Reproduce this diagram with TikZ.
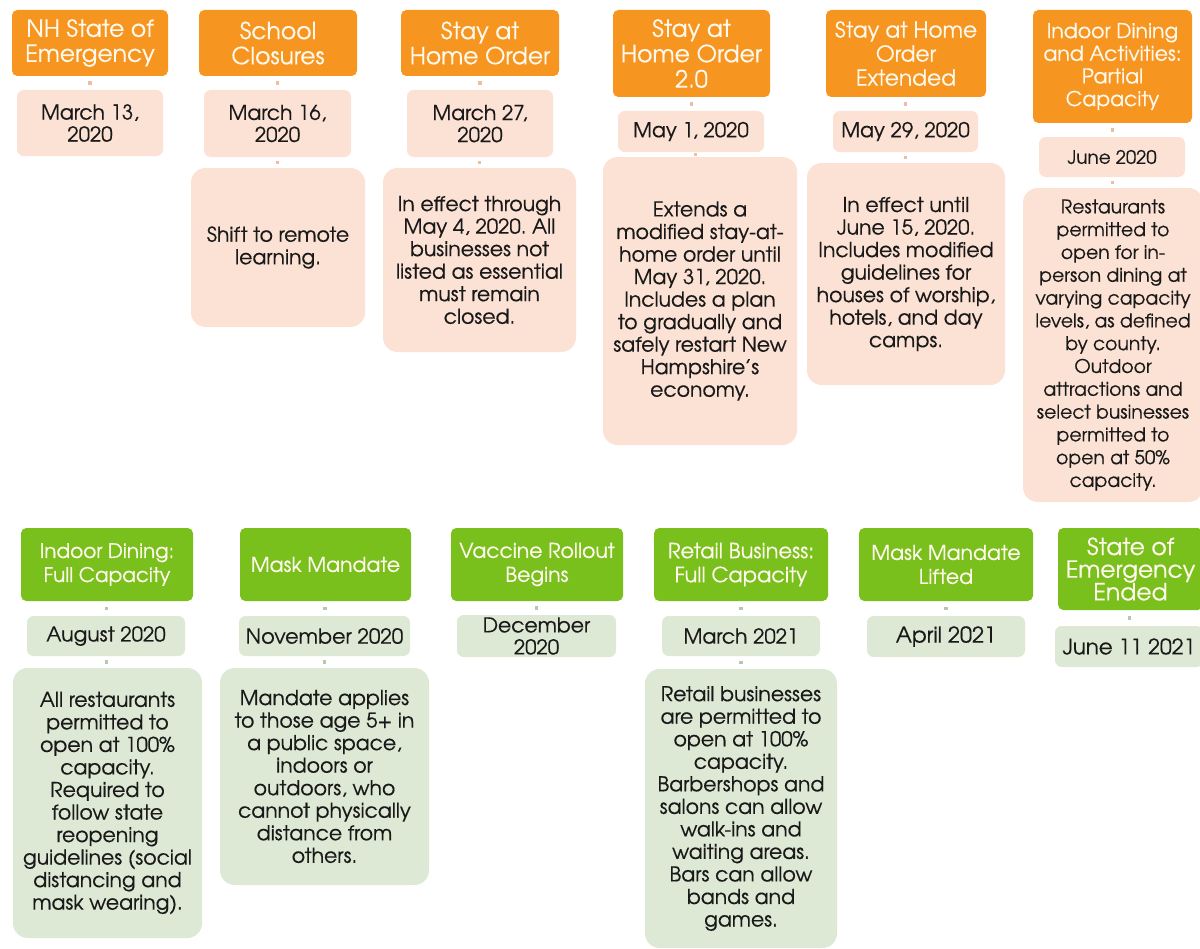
\documentclass[tikz,border=0pt]{standalone}
\usepackage{fontspec}
\setmainfont[FakeBold=0.4]{TeX Gyre Adventor}
\frenchspacing
\usetikzlibrary{calc}
\definecolor{orH}{RGB}{246,149,32}
\definecolor{orL}{RGB}{251,226,212}
\definecolor{orD}{RGB}{238,190,162}
\definecolor{grH}{RGB}{122,192,28}
\definecolor{grL}{RGB}{221,233,213}
\definecolor{grD}{RGB}{180,200,170}
\definecolor{hdT}{RGB}{255,248,236}
\definecolor{bdT}{RGB}{25,25,25}
\newcommand\tbox[7]{\node[#2, minimum width={(#5-#3)*0.75pt}, minimum height={(#6-#4)*0.75pt}] (#1) at ({(#3+#5)/2},{(#4+#6)/2}) {#7};}
\tikzset{
  fs/.style 2 args={font=\fontsize{#1}{#2}\selectfont},
  base/.style={align=center, inner sep=0pt, outer sep=0pt},
  hdrO/.style={base, fill=orH, text=hdT, rounded corners=4pt, fs={17.6}{18.8}},
  hdrG/.style={base, fill=grH, text=hdT, rounded corners=4pt, fs={15.3}{18}},
  datO/.style={base, fill=orL, text=bdT, rounded corners=5pt, fs={15.3}{16.5}},
  datG/.style={base, fill=grL, text=bdT, rounded corners=5pt, fs={15.3}{16.5}},
  txtO/.style={base, fill=orL, text=bdT, rounded corners=11pt, fs={15.3}{16.9}},
  txtG/.style={base, fill=grL, text=bdT, rounded corners=11pt, fs={15.3}{16.9}},
  connO/.style={draw=orD, line width=2.4pt, to path={($(\tikztostart)!0.5!(\tikztotarget)+(0,1.2pt)$) -- ($(\tikztostart)!0.5!(\tikztotarget)-(0,1.2pt)$)}},
  connG/.style={draw=grD, line width=2.4pt, to path={($(\tikztostart)!0.5!(\tikztotarget)+(0,1.2pt)$) -- ($(\tikztostart)!0.5!(\tikztotarget)-(0,1.2pt)$)}},
}
\begin{document}
\begin{tikzpicture}[x=0.75pt,y=-0.75pt]
\useasboundingbox (0,0) rectangle (1200,949);
\clip (0,0) rectangle (1200,949);
% ---- top row
\tbox{h1}{hdrO}{12}{10}{168}{76}{NH State of\\Emergency}
\tbox{d1}{datO}{17}{90}{163}{156}{March 13,\\2020}
\tbox{h2}{hdrO}{199}{10}{357}{76}{School\\Closures}
\tbox{d2}{datO}{204}{90}{351}{157}{March 16,\\2020}
\tbox{t2}{txtO}{191}{168}{365}{327}{Shift to remote\\learning.}
\tbox{h3}{hdrO}{401}{10}{559}{76}{Stay at\\Home Order}
\tbox{d3}{datO}{407}{90}{553}{157}{March 27,\\2020}
\tbox{t3}{txtO}{383}{168}{576}{352}{In effect through\\May 4, 2020. All\\businesses not\\listed as essential\\must remain\\closed.}
\tbox{h4}{hdrO,fs={17.7}{19}}{613}{10}{770}{97}{Stay at\\Home Order\\2.0}
\tbox{d4}{datO}{618}{111}{764}{152}{May 1, 2020}
\tbox{t4}{txtO}{603}{157}{797}{445}{Extends a\\modified stay-at-\\home order until\\May 31, 2020.\\Includes a plan\\to gradually and\\safely restart New\\Hampshire’s\\economy.}
\tbox{h5}{hdrO,fs={16.3}{18}}{826}{10}{986}{97}{Stay at Home\\Order\\Extended}
\tbox{d5}{datO}{833}{111}{978}{152}{May 29, 2020}
\tbox{t5}{txtO}{807}{163}{1005}{385}{In effect until\\June 15, 2020.\\Includes modified\\guidelines for\\houses of worship,\\hotels, and day\\camps.}
\tbox{h6}{hdrO,fs={15.3}{17}}{1033}{10}{1192}{123}{Indoor Dining\\and Activities:\\Partial\\Capacity}
\tbox{d6}{datO,fs={13.8}{16}}{1039}{137}{1185}{177}{June 2020}
\tbox{t6}{txtO,fs={14.1}{17.1}}{1023}{188}{1203}{502}{Restaurants\\permitted to\\open for in-\\person dining at\\varying capacity\\levels, as defined\\by county.\\Outdoor\\attractions and\\select businesses\\permitted to\\open at 50\%\\capacity.}
% ---- bottom row
\tbox{g1}{hdrG,fs={15}{18}}{21}{528}{193}{601}{Indoor Dining:\\Full Capacity}
\tbox{e1}{datG}{27}{616}{185}{656}{August 2020}
\tbox{s1}{txtG}{13}{668}{202}{938}{All restaurants\\permitted to\\open at 100\%\\capacity.\\Required to\\follow state\\reopening\\guidelines (social\\distancing and\\mask wearing).}
\tbox{g2}{hdrG}{240}{528}{411}{601}{Mask Mandate}
\tbox{e2}{datG,fs={15.5}{16.5}}{239}{616}{410}{656}{November 2020}
\tbox{s2}{txtG}{220}{668}{429}{885}{Mandate applies\\to those age 5+ in\\a public space,\\indoors or\\outdoors, who\\cannot physically\\distance from\\others.}
\tbox{g3}{hdrG}{451}{528}{623}{601}{Vaccine Rollout\\Begins}
\tbox{e3}{datG}{457}{615}{616}{657}{December\\2020}
\tbox{g4}{hdrG,fs={15.7}{18}}{654}{528}{828}{601}{Retail Business:\\Full Capacity}
\tbox{e4}{datG}{662}{616}{820}{656}{March 2021}
\tbox{s4}{txtG}{645}{669}{837}{948}{Retail businesses\\are permitted to\\open at 100\%\\capacity.\\Barbershops and\\salons can allow\\walk-ins and\\waiting areas.\\Bars can allow\\bands and\\games.}
\tbox{g5}{hdrG}{859}{528}{1033}{601}{Mask Mandate\\Lifted}
\tbox{e5}{datG,fs={16.3}{17}}{867}{616}{1025}{657}{April 2021}
\tbox{g6}{hdrG,fs={17.6}{17}}{1058}{528}{1203}{610}{State of\\Emergency\\Ended}
\tbox{e6}{datG,fs={16}{17}}{1055}{626}{1203}{667}{June 11 2021}
% ---- connectors
\foreach \a/\b in {h1/d1,h2/d2,d2/t2,h3/d3,d3/t3,h4/d4,d4/t4,h5/d5,d5/t5,h6/d6,d6/t6}
  \draw[connO] (\a.south) to (\b.north);
\foreach \a/\b in {g1/e1,e1/s1,g2/e2,e2/s2,g3/e3,g4/e4,e4/s4,g5/e5,g6/e6}
  \draw[connG] (\a.south) to (\b.north);
\end{tikzpicture}
\end{document}
